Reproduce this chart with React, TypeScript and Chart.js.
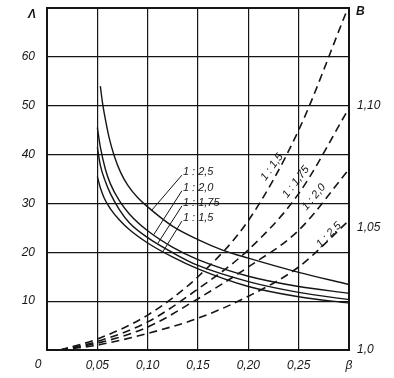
import React, { useEffect, useRef } from 'react';
import { Chart, registerables } from 'chart.js';

Chart.register(...registerables);

// ---- axes ----
const xTicks = [0, 0.05, 0.1, 0.15, 0.2, 0.25, 0.3];
const xTickLabels = ['', '0,05', '0,10', '0,15', '0,20', '0,25', 'β'];
const originLabel = '0';
const lamTicks = [0, 10, 20, 30, 40, 50, 60, 70];
const lamTickLabels = ['', '10', '20', '30', '40', '50', '60', ''];
const lamTitle = 'Λ';
const bTicks = [1.0, 1.05, 1.1];
const bTickLabels = ['1,0', '1,05', '1,10'];
const bTitle = 'B';

// ---- Λ curves (solid) ----
const lam25Beta = [0.053, 0.055, 0.058, 0.062, 0.067, 0.073, 0.08, 0.09, 0.1, 0.125, 0.15, 0.175, 0.2, 0.25, 0.3];
const lam25 = [54, 50.8, 47.2, 43.2, 39.6, 36.4, 33.8, 31.2, 29.3, 25.3, 22.6, 20.4, 18.8, 15.9, 13.4];
const lam20Beta = [0.05, 0.053, 0.058, 0.063, 0.072, 0.082, 0.1, 0.125, 0.15, 0.2, 0.25, 0.3];
const lam20 = [45.5, 41.5, 37, 34, 30.5, 27.8, 24.4, 21, 18.5, 15.1, 13, 11.6];
const lam175Beta = [0.05, 0.053, 0.058, 0.063, 0.072, 0.082, 0.1, 0.125, 0.15, 0.2, 0.25, 0.3];
const lam175 = [41.5, 37.8, 34.5, 32, 28.7, 26, 23, 19.9, 17.3, 14, 11.8, 10.3];
const lam15Beta = [0.05, 0.053, 0.057, 0.063, 0.072, 0.082, 0.1, 0.125, 0.15, 0.2, 0.25, 0.3];
const lam15 = [35.5, 33.2, 31, 28.9, 26.6, 24.6, 21.9, 19.0, 16.6, 13, 10.9, 9.6];

// ---- B curves (dashed) ----
const b15Beta = [0.013, 0.05, 0.1, 0.15, 0.2, 0.25, 0.297];
const b15 = [1.0, 1.0045, 1.0143, 1.03, 1.053, 1.09, 1.138];
const bBeta = [0.013, 0.05, 0.1, 0.15, 0.2, 0.25, 0.3];
const b175 = [1.0, 1.0035, 1.0115, 1.025, 1.041, 1.064, 1.099];
const b20 = [1.0, 1.0028, 1.0094, 1.021, 1.034, 1.049, 1.074];
const b25 = [1.0, 1.002, 1.0068, 1.013, 1.022, 1.034, 1.053];

// ---- curve labels ----
const solidLabels = ['1 : 2,5', '1 : 2,0', '1 : 1,75', '1 : 1,5'];
const solidLabelBeta = [0.135, 0.135, 0.135, 0.135];
const solidLabelLam = [36.4, 33.2, 30.1, 27.0];
const solidLeaderEndBeta = [0.104, 0.106, 0.11, 0.115];
const solidLeaderEndLam = [28.6, 23.6, 21.8, 20.1];

const dashedLabels = ['1 : 1,5', '1 : 1,75', '1 : 2,0', '1 : 2,5'];
const dashedLabelBeta = [0.2234, 0.2473, 0.2651, 0.28];
const dashedLabelB = [1.0749, 1.0688, 1.0626, 1.0471];
const dashedLabelAngle = [-54, -53, -50, -46];

const FAMILY = '"Liberation Sans", Arial, sans-serif';
const INK = '#151515';

const pts = (xs: number[], ys: number[]) => xs.map((x, i) => ({ x, y: ys[i] }));

const annotate = {
  id: 'annotate',
  afterDatasetsDraw(chart: any) {
    const { ctx, chartArea, scales } = chart;
    const sx = scales.x, sy = scales.y, sb = scales.y2;
    ctx.save();
    ctx.fillStyle = INK;
    ctx.strokeStyle = INK;
    ctx.font = `italic 11px ${FAMILY}`;
    ctx.textBaseline = 'middle';
    ctx.textAlign = 'left';
    ctx.lineWidth = 1;
    solidLabels.forEach((t, i) => {
      const px = sx.getPixelForValue(solidLabelBeta[i]);
      const py = sy.getPixelForValue(solidLabelLam[i]);
      ctx.fillText(t, px, py);
      ctx.beginPath();
      ctx.moveTo(px - 1, py + 3);
      ctx.lineTo(sx.getPixelForValue(solidLeaderEndBeta[i]), sy.getPixelForValue(solidLeaderEndLam[i]));
      ctx.stroke();
    });
    ctx.textAlign = 'center';
    dashedLabels.forEach((t, i) => {
      const px = sx.getPixelForValue(dashedLabelBeta[i]);
      const py = sb.getPixelForValue(dashedLabelB[i]);
      ctx.save();
      ctx.translate(px, py);
      ctx.rotate((dashedLabelAngle[i] * Math.PI) / 180);
      ctx.fillText(t, 0, 0);
      ctx.restore();
    });
    ctx.font = `italic 12px ${FAMILY}`;
    ctx.fillText(originLabel, chartArea.left - 9, chartArea.bottom + 15);
    ctx.font = `italic bold 12px ${FAMILY}`;
    ctx.fillText(lamTitle, chartArea.left - 15, chartArea.top + 7);
    ctx.textAlign = 'left';
    ctx.fillText(bTitle, chartArea.right + 7, chartArea.top + 4);
    ctx.restore();
  },
};

export default function App() {
  const ref = useRef<HTMLCanvasElement>(null);
  useEffect(() => {
    if (!ref.current) return;
    const solid = (data: any) => ({
      data,
      yAxisID: 'y',
      borderColor: INK,
      borderWidth: 1.4,
      pointRadius: 0,
      cubicInterpolationMode: 'monotone',
      fill: false,
    });
    const dashed = (data: any) => ({
      data,
      yAxisID: 'y2',
      borderColor: INK,
      borderWidth: 1.6,
      borderDash: [8, 5],
      pointRadius: 0,
      cubicInterpolationMode: 'monotone',
      fill: false,
    });
    const tickFont = { family: FAMILY, size: 12, style: 'italic' as const };
    const chart = new Chart(ref.current, {
      type: 'line',
      data: {
        datasets: [
          solid(pts(lam25Beta, lam25)),
          solid(pts(lam20Beta, lam20)),
          solid(pts(lam175Beta, lam175)),
          solid(pts(lam15Beta, lam15)),
          dashed(pts(b15Beta, b15)),
          dashed(pts(bBeta, b175)),
          dashed(pts(bBeta, b20)),
          dashed(pts(bBeta, b25)),
        ] as any,
      },
      options: {
        animation: false,
        responsive: false,
        layout: { padding: { top: 8, left: 0, right: 0, bottom: 0 } },
        plugins: { legend: { display: false }, tooltip: { enabled: false } },
        scales: {
          x: {
            type: 'linear',
            min: 0,
            max: 0.3,
            afterBuildTicks: (s: any) => {
              s.ticks = xTicks.map((v) => ({ value: v }));
            },
            ticks: {
              callback: (_v: any, i: number) => xTickLabels[i],
              autoSkip: false,
              maxRotation: 0,
              padding: 8,
              color: INK,
              font: tickFont,
            },
            grid: { color: INK, lineWidth: 1.2, drawTicks: false },
            border: { color: INK, width: 2 },
            afterFit: (s: any) => {
              s.height = 28;
              s.paddingLeft = 0;
              s.paddingRight = 0;
            },
          },
          y: {
            position: 'left',
            min: 0,
            max: 70,
            afterBuildTicks: (s: any) => {
              s.ticks = lamTicks.map((v) => ({ value: v }));
            },
            ticks: {
              callback: (_v: any, i: number) => lamTickLabels[i],
              autoSkip: false,
              padding: 12,
              color: INK,
              font: tickFont,
            },
            grid: {
              color: INK,
              lineWidth: (c: any) => (c.tick && c.tick.value === 70 ? 2 : 1.2),
              drawTicks: false,
            },
            border: { color: INK, width: 2 },
            afterFit: (s: any) => {
              s.width = 47;
              s.paddingTop = 0;
              s.paddingBottom = 0;
            },
          },
          y2: {
            position: 'right',
            min: 1.0,
            max: 1.14,
            afterBuildTicks: (s: any) => {
              s.ticks = bTicks.map((v) => ({ value: v }));
            },
            ticks: {
              callback: (_v: any, i: number) => bTickLabels[i],
              autoSkip: false,
              padding: 8,
              color: INK,
              font: tickFont,
            },
            grid: { display: false, drawTicks: false },
            border: { display: true, color: INK, width: 2 },
            afterFit: (s: any) => {
              s.width = 45;
              s.paddingTop = 0;
              s.paddingBottom = 0;
            },
          },
        },
      } as any,
      plugins: [annotate],
    });
    return () => chart.destroy();
  }, []);
  return (
    <div style={{ position: 'fixed', left: 0, top: 0, width: 394, height: 378, background: '#fff' }}>
      <canvas ref={ref} width={394} height={378} style={{ display: 'block' }} />
    </div>
  );
}
